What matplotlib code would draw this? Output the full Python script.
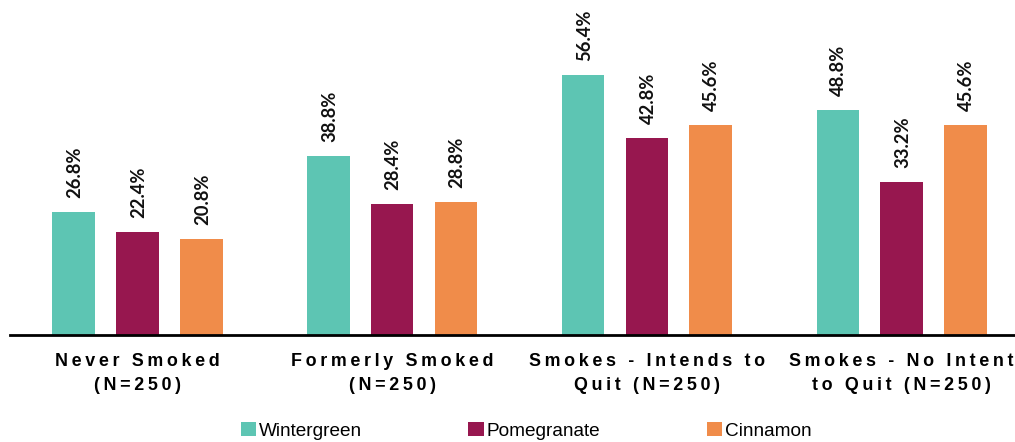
import matplotlib
matplotlib.use("Agg")
import matplotlib.pyplot as plt
import numpy as np

# Survey groups and flavour appeal (% of respondents)
groups = ["Never Smoked\n(N=250)", "Formerly Smoked\n(N=250)",
          "Smokes - Intends to\nQuit (N=250)", "Smokes - No Intent\nto Quit (N=250)"]
series = ["Wintergreen", "Pomegranate", "Cinnamon"]
wintergreen = [26.8, 38.8, 56.4, 48.8]
pomegranate = [22.4, 28.4, 42.8, 33.2]
cinnamon = [20.8, 28.8, 45.6, 45.6]
colors = ["#5DC5B3", "#97174F", "#F08C4A"]


def spaced(text, sep="\u2009"):
    """Letter-space each line of a label."""
    return "\n".join(sep.join(line) for line in text.split("\n"))


fig = plt.figure(figsize=(10.15, 4.42), dpi=100)
ax = fig.add_axes([10 / 1015, 107 / 442, 1005 / 1015, 335 / 442])

x = np.arange(len(groups))
step = 0.2504
width = 0.1675
for i, (name, vals, col) in enumerate(zip(series, [wintergreen, pomegranate, cinnamon], colors)):
    pos = x + (i - 1) * step
    bars = ax.bar(pos, vals, width=width, color=col, label=name, zorder=2)
    for b, v in zip(bars, vals):
        ax.annotate(f"{v:.1f}%", (b.get_x() + b.get_width() / 2, v),
                    xytext=(0.8, 10), textcoords="offset points",
                    rotation=90, ha="center", va="bottom",
                    fontsize=13.2, fontweight="bold", family="Lato",
                    color="#111111")

ax.set_xlim(-0.5, 3.445)
ax.set_ylim(0, 72.7)
for s in ["top", "right", "left"]:
    ax.spines[s].set_visible(False)
ax.spines["bottom"].set_linewidth(2)
ax.spines["bottom"].set_color("#000000")
ax.set_yticks([])
ax.set_xticks(x)
ax.set_xticklabels([spaced(g) for g in groups],
                   family=["Liberation Sans", "DejaVu Sans"],
                   fontweight="bold", fontsize=12.9, linespacing=1.5)
ax.tick_params(axis="x", length=0, pad=13)

leg = fig.legend(loc="center", bbox_to_anchor=(526 / 1015, 1 - 431 / 442), ncol=3,
                 frameon=False, handlelength=0.8, handleheight=0.7,
                 handletextpad=0.15, columnspacing=5.6,
                 prop={"family": "Liberation Sans", "size": 13.7})

fig.savefig("out.png", dpi=100)
